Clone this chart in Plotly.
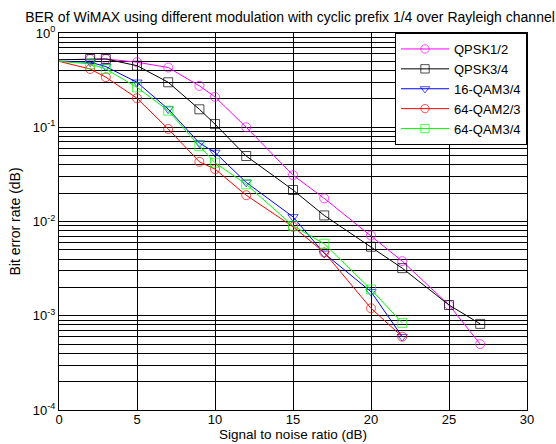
import plotly.graph_objects as go

# ---- data ----
snr_qpsk12 = [0, 2, 3, 5, 7, 9, 10, 12, 15, 17, 20, 22, 25, 27]
ber_qpsk12 = [0.52, 0.53, 0.53, 0.49, 0.43, 0.275, 0.21, 0.10, 0.031, 0.0176, 0.0071, 0.0038, 0.0013, 0.0005]

snr_qpsk34 = [0, 2, 3, 5, 7, 9, 10, 12, 15, 17, 20, 22, 25, 27]
ber_qpsk34 = [0.52, 0.53, 0.53, 0.45, 0.30, 0.155, 0.108, 0.0495, 0.0216, 0.0116, 0.0054, 0.0032, 0.0013, 0.00082]

snr_16qam34 = [0, 2, 3, 5, 7, 9, 10, 12, 15, 17, 20, 22]
ber_16qam34 = [0.50, 0.49, 0.44, 0.30, 0.156, 0.068, 0.054, 0.026, 0.0112, 0.0046, 0.0018, 0.0006]

snr_64qam23 = [0, 2, 3, 5, 7, 9, 10, 12, 15, 17, 20, 22]
ber_64qam23 = [0.50, 0.415, 0.34, 0.203, 0.096, 0.043, 0.036, 0.019, 0.0088, 0.0047, 0.0012, 0.0006]

snr_64qam34 = [0, 2, 3, 5, 7, 9, 10, 12, 15, 17, 20, 22]
ber_64qam34 = [0.50, 0.47, 0.415, 0.265, 0.15, 0.063, 0.042, 0.0248, 0.009, 0.0058, 0.0019, 0.00084]

x_ticks = [0, 5, 10, 15, 20, 25, 30]
y_decades = [-4, -3, -2, -1, 0]

series = [
    ("QPSK1/2", snr_qpsk12, ber_qpsk12, "#FF00FF", "circle-open"),
    ("QPSK3/4", snr_qpsk34, ber_qpsk34, "#000000", "square-open"),
    ("16-QAM3/4", snr_16qam34, ber_16qam34, "#0000FF", "triangle-down-open"),
    ("64-QAM2/3", snr_64qam23, ber_64qam23, "#FF0000", "circle-open"),
    ("64-QAM3/4", snr_64qam34, ber_64qam34, "#00FF00", "square-open"),
]

FONT = "Liberation Sans, Arial, sans-serif"

fig = go.Figure()
for name, xs, ys, col, sym in series:
    sizes = [0 if x == 0 else 9 for x in xs]
    fig.add_trace(go.Scatter(
        x=xs, y=ys, name=name, mode="lines+markers",
        line=dict(color=col, width=1),
        marker=dict(symbol=sym, size=sizes, color=col, line=dict(color=col, width=1)),
    ))

y_tickvals = [10.0 ** d for d in y_decades]
y_ticktext = ["10<sup>%d</sup>" % d for d in y_decades]
y_minor = [k * 10.0 ** d for d in y_decades[:-1] for k in range(2, 10)]

fig.update_layout(
    width=556, height=444,
    margin=dict(l=59, r=29, t=33, b=34),
    paper_bgcolor="white", plot_bgcolor="white",
    font=dict(family=FONT, size=13, color="black"),
    title=dict(
        text="BER of WiMAX using different modulation with cyclic prefix 1/4 over Rayleigh channel",
        x=290 / 556, xref="container", xanchor="center",
        y=1 - 17 / 444, yref="container", yanchor="middle",
        font=dict(family=FONT, size=14, color="black"),
    ),
    xaxis=dict(
        range=[0, 30], tickvals=x_ticks, ticks="", automargin=False,
        ticklabelstandoff=-3,
        tickfont=dict(family=FONT, size=13, color="black"),
        showgrid=True, gridcolor="black", gridwidth=1,
        showline=True, linecolor="black", linewidth=1, mirror=True,
        zeroline=False,
        title=dict(text="Signal to noise ratio (dB)", standoff=1,
                   font=dict(family=FONT, size=13.5, color="black")),
    ),
    yaxis=dict(
        type="log", range=[-4, 0], tickvals=y_tickvals, ticktext=y_ticktext, ticks="",
        automargin=False,
        tickfont=dict(family=FONT, size=13, color="black"),
        showgrid=True, gridcolor="black", gridwidth=1,
        minor=dict(tickvals=y_minor, showgrid=True, gridcolor="black", gridwidth=1, ticks=""),
        showline=True, linecolor="black", linewidth=1, mirror=True,
        zeroline=False,
        title=dict(text="Bit error rate (dB)", standoff=8,
                   font=dict(family=FONT, size=14, color="black")),
    ),
    legend=dict(
        x=1, y=1, xanchor="right", yanchor="top",
        bgcolor="white", bordercolor="black", borderwidth=1,
        font=dict(family=FONT, size=13, color="black"),
        itemwidth=48, tracegroupgap=0,
    ),
)

fig.write_html("out.html")
